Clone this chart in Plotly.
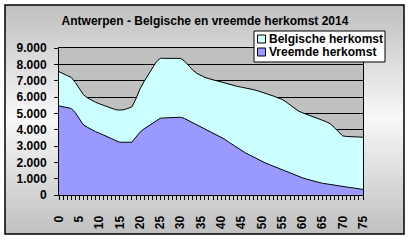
import plotly.graph_objects as go

ages = list(range(76))

vreemde = [5450, 5400, 5330, 5300, 5050, 4700, 4300, 4150, 4000, 3880,
           3780, 3680, 3560, 3450, 3330, 3230, 3230, 3230, 3230, 3550,
           3850, 4050, 4200, 4350, 4550, 4700, 4720, 4740, 4750, 4760,
           4760, 4680, 4550, 4420, 4300, 4180, 4050, 3920, 3800, 3680,
           3560, 3400, 3220, 3050, 2880, 2730, 2580, 2450, 2320, 2180,
           2060, 1950, 1850, 1750, 1650, 1540, 1430, 1330, 1230, 1160,
           1060, 980, 900, 830, 780, 720, 680, 620, 570, 540,
           510, 480, 450, 420, 380, 340]

belgische = [2100, 2050, 1970, 1900, 1850, 1800, 1850, 1800, 1800, 1800,
             1800, 1800, 1820, 1830, 1890, 1970, 1990, 2070, 2170, 2350,
             2650, 2900, 3150, 3400, 3600, 3670, 3650, 3630, 3620, 3610,
             3600, 3520, 3350, 3230, 3150, 3120, 3150, 3200, 3250, 3280,
             3340, 3440, 3570, 3670, 3770, 3870, 3980, 4070, 4130, 4200,
             4240, 4290, 4300, 4300, 4300, 4320, 4270, 4190, 4120, 3990,
             3980, 3970, 3950, 3940, 3920, 3880, 3800, 3730, 3530, 3310,
             3110, 3100, 3130, 3150, 3170, 3190]

series_names = ["Belgische herkomst", "Vreemde herkomst"]
series_colors = ["#CCFFFF", "#9999FF"]

x_tickvals = list(range(0, 76, 5))
y_tickvals = list(range(0, 9001, 1000))

FONT = "Arial, 'Liberation Sans', sans-serif"
W, H = 411, 242
L, R, T, B = 59, 363, 48, 195   # plot area pixel edges

def px_x(p):
    return (p - L) / (R - L)

def px_y(p):
    return (B - p) / (B - T)

fig = go.Figure()
fig.add_trace(go.Scatter(
    x=ages, y=vreemde, name=series_names[1], stackgroup="one",
    mode="lines", line=dict(color="black", width=1), fillcolor=series_colors[1],
    showlegend=False))
fig.add_trace(go.Scatter(
    x=ages, y=belgische, name=series_names[0], stackgroup="one",
    mode="lines", line=dict(color="black", width=1), fillcolor=series_colors[0],
    showlegend=False))

shapes = []
annotations = []
# gradient background inside frame: gray -> near white -> gray
top_px, bot_px, mid_px = 5, 234, 118
c_edge, c_mid = 192, 248
step = 2
p = top_px
while p < bot_px:
    q = min(p + step, bot_px)
    c = (p + q) / 2
    if c <= mid_px:
        t = (c - top_px) / (mid_px - top_px)
    else:
        t = (bot_px - c) / (bot_px - mid_px)
    v = int(round(c_edge + (c_mid - c_edge) * t))
    col = f"rgb({v},{v},{v})"
    shapes.append(dict(type="rect", xref="paper", yref="paper", layer="below",
                       x0=px_x(5), x1=px_x(404), y0=px_y(q + 0.5), y1=px_y(p),
                       fillcolor=col, line=dict(width=0)))
    p = q
# plot area gray
shapes.append(dict(type="rect", xref="paper", yref="paper", layer="below",
                   x0=0, x1=1, y0=0, y1=1, fillcolor="#C0C0C0", line=dict(width=0)))
# frame
shapes.append(dict(type="rect", xref="paper", yref="paper", layer="above",
                   x0=px_x(5), x1=px_x(404), y0=px_y(234), y1=px_y(5),
                   fillcolor="rgba(0,0,0,0)", line=dict(color="black", width=1.5)))

# legend box (drawn manually to match compact Excel legend)
shapes.append(dict(type="rect", xref="paper", yref="paper", layer="above",
                   x0=px_x(254), x1=px_x(385), y0=px_y(62), y1=px_y(31),
                   fillcolor="white", line=dict(color="black", width=1)))
row_y = [39, 52]
for name, color, ry in zip(series_names, series_colors, row_y):
    shapes.append(dict(type="rect", xref="paper", yref="paper", layer="above",
                       x0=px_x(257.5), x1=px_x(265.5), y0=px_y(ry + 4), y1=px_y(ry - 4),
                       fillcolor=color, line=dict(color="black", width=1)))
    annotations.append(dict(text=f"<b>{name}</b>", xref="paper", yref="paper",
                            x=px_x(267), y=px_y(ry), xanchor="left", yanchor="middle",
                            showarrow=False,
                            font=dict(family=FONT, size=12, color="black")))

fig.update_layout(
    width=W, height=H,
    margin=dict(l=L, r=W - R, t=T, b=H - B, pad=0),
    paper_bgcolor="white", plot_bgcolor="rgba(0,0,0,0)",
    font=dict(family=FONT, size=12, color="black"),
    title=dict(text="<b>Antwerpen - Belgische en vreemde herkomst 2014</b>",
               x=205 / W, xanchor="center", y=1 - 21 / H, yanchor="middle",
               font=dict(family=FONT, size=12, color="black")),
    showlegend=False,
    shapes=shapes,
    annotations=annotations,
    xaxis=dict(range=[0, 75], tickvals=x_tickvals,
               ticktext=[f"<b>{v}</b>" for v in x_tickvals],
               tickangle=-90, ticks="outside", ticklen=4, tickcolor="black",
               showline=True, linecolor="black", linewidth=1, mirror=True,
               showgrid=False, zeroline=False,
               minor=dict(dtick=1, ticks="outside", ticklen=4, tickcolor="black", showgrid=False),
               ticklabelstandoff=11,
               tickfont=dict(family=FONT, size=12, color="black")),
    yaxis=dict(range=[0, 9000], tickvals=y_tickvals,
               ticktext=[f"<b>{v:,}</b>".replace(",", ".") for v in y_tickvals],
               ticks="outside", ticklen=4, tickcolor="black",
               showline=True, linecolor="black", linewidth=1, mirror=True,
               showgrid=True, gridcolor="black", gridwidth=1, zeroline=False,
               ticklabelstandoff=5,
               tickfont=dict(family=FONT, size=12, color="black")),
)

fig.write_html("out.html")
